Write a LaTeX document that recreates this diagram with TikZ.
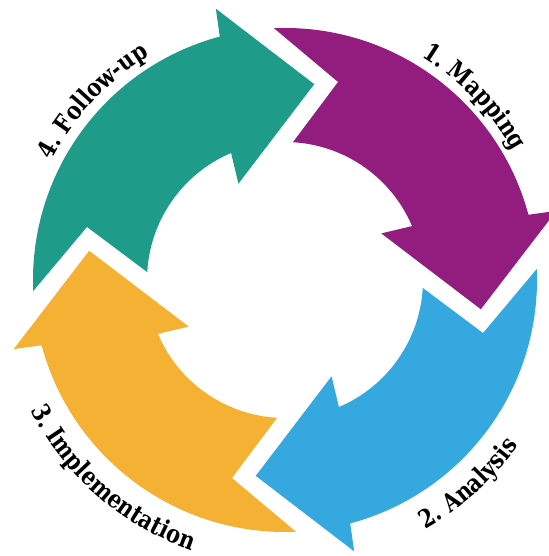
\documentclass[tikz,border=0pt]{standalone}
\usepackage{fontspec}
\setmainfont{DejaVu Serif}[BoldFeatures={FakeStretch=0.84}]
\usetikzlibrary{decorations.text}
\definecolor{violetfleche}{HTML}{931C7F}
\definecolor{bleufleche}{HTML}{35A8E0}
\definecolor{jaunefleche}{HTML}{F4B133}
\definecolor{vertfleche}{HTML}{1F9B8A}
\begin{document}
\begin{tikzpicture}[x=1pt,y=1pt]
			\tikzstyle{fleche}=[draw=none]
			\tikzstyle{etiquette}=[decorate,decoration={text along path,text align=center}]
			\def\RayonExt{252pt}
			\def\RayonInt{138pt}
			\def\RayonBarbeExt{280pt}
			\def\RayonBarbeInt{107pt}
			\def\RayonPointe{198pt}
			\def\RayonEncoche{205pt}
			\def\RayonHaut{262pt}
			\def\RayonBas{286pt}
			\def\Police{\fontsize{25}{29}\selectfont\bfseries}
			\useasboundingbox (0,0) rectangle (548,556);
			\coordinate (centre) at (285,276);
			\begin{scope}[shift={(centre)}]
			\fill[fleche,violetfleche] (92.5:\RayonExt) arc[start angle=92.5,end angle=15,radius=\RayonExt] -- (14.3:\RayonBarbeExt) -- (-8.5:\RayonPointe) -- (25.8:\RayonBarbeInt) -- (23:\RayonInt) arc[start angle=23,end angle=86.7,radius=\RayonInt] -- (75:\RayonEncoche) -- cycle;
			\fill[fleche,bleufleche] (2.5:\RayonExt) arc[start angle=2.5,end angle=-75,radius=\RayonExt] -- (-75.7:\RayonBarbeExt) -- (-98.5:\RayonPointe) -- (-64.2:\RayonBarbeInt) -- (-67:\RayonInt) arc[start angle=-67,end angle=-3.3,radius=\RayonInt] -- (-15:\RayonEncoche) -- cycle;
			\fill[fleche,jaunefleche] (-87.5:\RayonExt) arc[start angle=-87.5,end angle=-165,radius=\RayonExt] -- (-165.7:\RayonBarbeExt) -- (-188.5:\RayonPointe) -- (-154.2:\RayonBarbeInt) -- (-157:\RayonInt) arc[start angle=-157,end angle=-93.3,radius=\RayonInt] -- (-105:\RayonEncoche) -- cycle;
			\fill[fleche,vertfleche] (182.5:\RayonExt) arc[start angle=182.5,end angle=105,radius=\RayonExt] -- (104.3:\RayonBarbeExt) -- (81.5:\RayonPointe) -- (115.8:\RayonBarbeInt) -- (113:\RayonInt) arc[start angle=113,end angle=176.7,radius=\RayonInt] -- (165:\RayonEncoche) -- cycle;
			\path[etiquette,decoration={text={|\Police|1. Mapping}}] (79:\RayonHaut) arc[start angle=79,end angle=9,radius=\RayonHaut];
			\path[etiquette,decoration={text={|\Police|2. Analysis}}] (-83:\RayonBas) arc[start angle=-83,end angle=-13,radius=\RayonBas];
			\path[etiquette,decoration={text={|\Police|3. Implementation}}] (189:\RayonBas) arc[start angle=189,end angle=269,radius=\RayonBas];
			\path[etiquette,decoration={text={|\Police|4. Follow-up}}] (172:\RayonHaut) arc[start angle=172,end angle=102,radius=\RayonHaut];
			\end{scope}
		\end{tikzpicture}
\end{document}
